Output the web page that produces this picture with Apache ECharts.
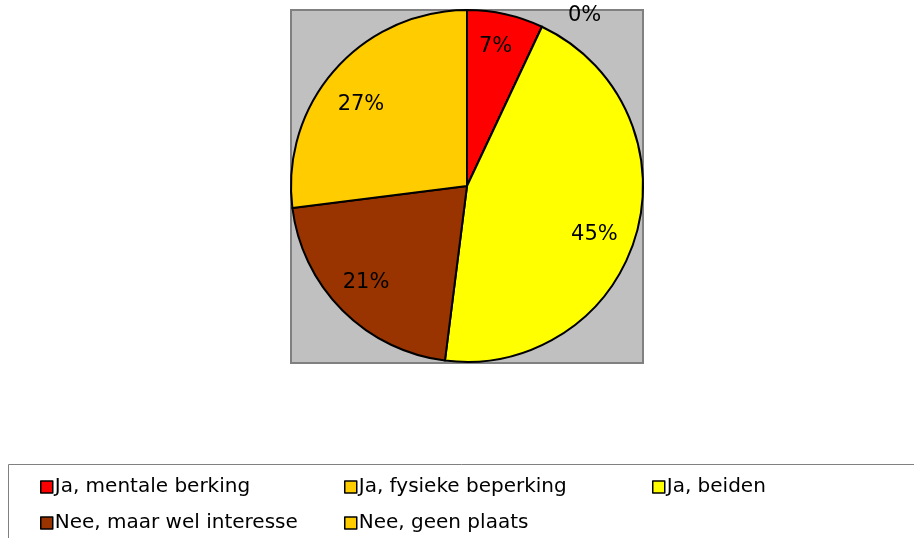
<!DOCTYPE html>
<html>
<head>
<meta charset="utf-8">
<script src="https://cdn.jsdelivr.net/npm/echarts@6/dist/echarts.min.js"></script>
<style>
  html, body { margin: 0; padding: 0; background: #fff; }
  #chart { width: 914px; height: 538px; }
</style>
</head>
<body>
<div id="chart"></div>
<script>
  // categories and values (percentages)
  var categories = ['Ja, mentale berking', 'Ja, fysieke beperking', 'Ja, beiden', 'Nee, maar wel interesse', 'Nee, geen plaats']
  var values = [7, 0, 45, 21, 27]
  var colors = ['#FF0000', '#FFCC00', '#FFFF00', '#993300', '#FFCC00']
  // small nudges of the percentage labels (Excel "best fit" placement)
  var labelShift = [[-2, -3], [58, -44], [-7, 9], [-2, -2], [-1, 11]]

  var font = 'DejaVu Sans'
  var pieData = categories.map(function (name, i) {
    return { name: name, value: values[i], itemStyle: { color: colors[i] } }
  })

  function legendItems (idx) {
    return idx.map(function (i) {
      return { name: categories[i], itemStyle: { color: colors[i], borderColor: '#000', borderWidth: 1.5 } }
    })
  }
  var legendBase = {
    orient: 'vertical',
    icon: 'rect',
    itemWidth: 12,
    itemHeight: 12,
    itemGap: 16,
    top: 477,
    padding: 0,
    height: 60,
    selectedMode: false,
    textStyle: { fontFamily: font, fontSize: 20, lineHeight: 20, color: '#000', padding: [0, 0, 0, -3] }
  }

  var myChart = echarts.init(document.getElementById('chart'), null, { renderer: 'canvas' })
  myChart.setOption({
    animation: false,
    graphic: [
      // grey plot area behind the pie
      { type: 'rect', z: -10, shape: { x: 291, y: 10, width: 352, height: 353 },
        style: { fill: '#C0C0C0', stroke: '#808080', lineWidth: 2 } },
      // legend frame
      { type: 'rect', z: -10, shape: { x: 8.5, y: 464.5, width: 920, height: 100 },
        style: { fill: '#fff', stroke: '#808080', lineWidth: 1 } }
    ],
    legend: [
      Object.assign({}, legendBase, { left: 40, data: legendItems([0, 3]) }),
      Object.assign({}, legendBase, { left: 344, data: legendItems([1, 4]) }),
      Object.assign({}, legendBase, { left: 652, data: legendItems([2]) })
    ],
    series: [
      {
        type: 'pie',
        center: [467, 186],
        radius: 176,
        startAngle: 90,
        clockwise: true,
        silent: true,
        label: { show: false },
        labelLine: { show: false },
        itemStyle: { borderColor: '#000', borderWidth: 2 },
        data: pieData
      },
      {
        // invisible pie, only to place the percentage labels
        type: 'pie',
        center: [467, 186],
        radius: 274,
        startAngle: 90,
        clockwise: true,
        silent: true,
        z: 5,
        itemStyle: { color: 'rgba(0,0,0,0)', borderWidth: 0 },
        label: {
          show: true,
          position: 'inside',
          formatter: '{c}%',
          fontFamily: font,
          fontSize: 21,
          color: '#000'
        },
        labelLine: { show: false },
        labelLayout: function (params) {
          var s = labelShift[params.dataIndex]
          return { dx: s[0], dy: s[1] }
        },
        data: pieData.map(function (d) { return { name: d.name, value: d.value } })
      }
    ]
  })
</script>
</body>
</html>
